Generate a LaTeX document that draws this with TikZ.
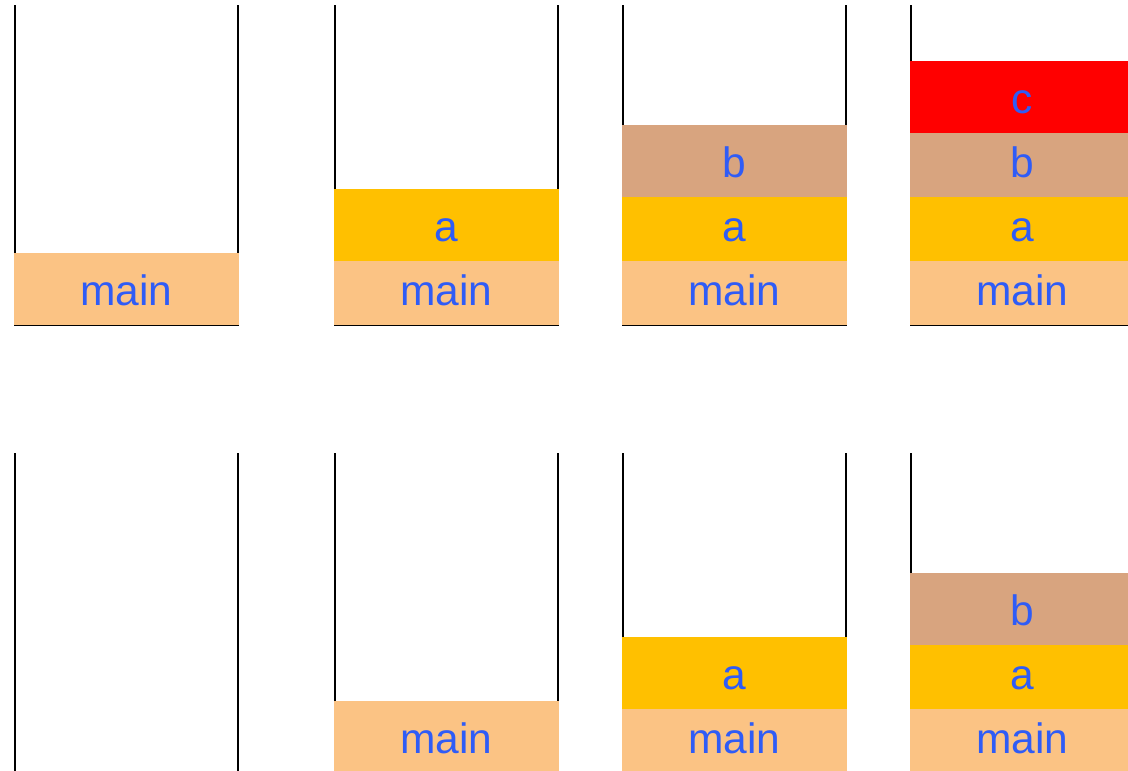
\documentclass[tikz,border=0pt]{standalone}
\usepackage{fontspec}
\setmainfont{Liberation Sans}
\definecolor{mainc}{HTML}{FBC384}
\definecolor{ac}{HTML}{FFC000}
\definecolor{bc}{HTML}{D8A47F}
\definecolor{cc}{HTML}{FF0000}
\definecolor{txt}{HTML}{2F5CF6}
\tikzset{
  wall/.style={line width=2.5pt, black},
  floor/.style={line width=1pt, black},
  frame/.style={inner sep=0pt, outer sep=0pt, minimum width=225pt,
    minimum height=72pt, text height=32pt, text depth=0pt, text=txt,
    font=\fontsize{42.5}{42.5}\selectfont, anchor=north west},
}
\begin{document}
\begin{tikzpicture}[x=1pt,y=-1pt]
\useasboundingbox (0,0) rectangle (1128,771);
\clip (0,0) rectangle (1128,771);
% two rows of call stacks; each column holds frames stacked from the floor up
\foreach \r/\base/\off in {t/325/0, b/773/1} {
  \foreach \c/\x in {1/14, 2/334, 3/622, 4/910} {
    \draw[wall] (\x+1, \base-320) -- (\x+1, \base);
    \draw[wall] (\x+224, \base-320) -- (\x+224, \base);
    \pgfmathtruncatemacro\n{\c-\off}
    \foreach [count=\k from 0] \lbl/\col in {main/mainc, a/ac, b/bc, c/cc} {
      \ifnum\k<\n
        \node[frame, fill=\col] (\r\c-\lbl) at (\x, \base-72-64*\k) {\lbl};
      \fi
    }
    \draw[floor] (\x, \base) -- (\x+225, \base);
  }
}
\end{tikzpicture}
\end{document}
